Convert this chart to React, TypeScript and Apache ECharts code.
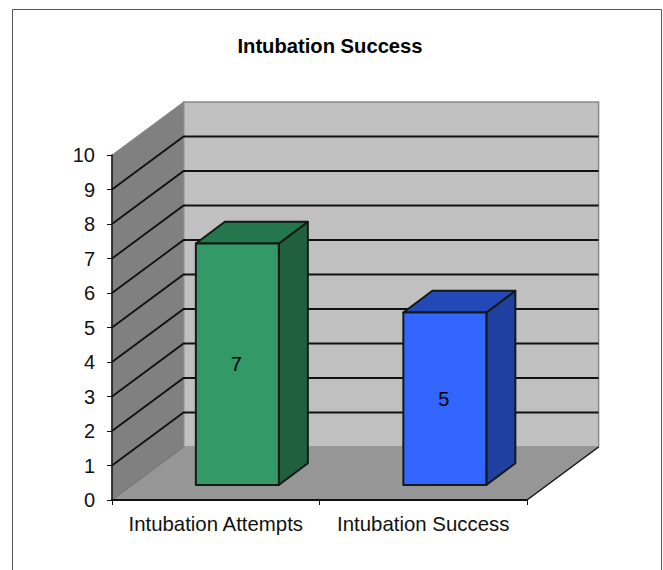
import React, { useEffect, useRef } from "react";
import * as echarts from "echarts";

const categories = ["Intubation Attempts", "Intubation Success"];
const counts = [7, 5];
const gridValues = [1, 2, 3, 4, 5, 6, 7, 8, 9];
const faceColors = ["#339966", "#3366ff"];
const sideColors = ["#20603e", "#2040a0"];
const topColors = ["#24774c", "#2448b8"];

const FONT = '"Liberation Sans", Arial, sans-serif';
const WALL_DX = 71.6;
const WALL_DY = -53;
const GAP_DX = 21.6;
const GAP_DY = -15;
const BAR_DX = 29;
const BAR_DY = -21.7;
const EDGE = "#111a14";

export default function App() {
  const ref = useRef<HTMLDivElement>(null);
  useEffect(() => {
    const chart = echarts.init(ref.current!, null, { renderer: "svg" });
    const backdrop = (_: any, api: any) => {
      const band = api.size([1, 0])[0];
      const [cx0, y0] = api.coord([0, 0]);
      const [, y10] = api.coord([0, 10]);
      const xl = cx0 - band / 2;
      const xr = xl + band * 2;
      const poly = (points: number[][], fill: string, stroke?: string, lineWidth = 1) => ({
        type: "polygon",
        shape: { points },
        style: { fill, stroke: stroke ?? "none", lineWidth },
      });
      return {
        type: "group",
        children: [
          poly(
            [[xl + WALL_DX, y0 + WALL_DY], [xr + WALL_DX, y0 + WALL_DY], [xr + WALL_DX, y10 + WALL_DY], [xl + WALL_DX, y10 + WALL_DY]],
            "#c0c0c0", "#8a8a8a", 1.5
          ),
          poly(
            [[xl, y0], [xl + WALL_DX, y0 + WALL_DY], [xl + WALL_DX, y10 + WALL_DY], [xl, y10]],
            "#808080", "#8a8a8a", 1
          ),
          poly(
            [[xl, y0], [xr, y0], [xr + WALL_DX, y0 + WALL_DY], [xl + WALL_DX, y0 + WALL_DY]],
            "#969696"
          ),
          {
            type: "line",
            shape: { x1: xr, y1: y0, x2: xr + WALL_DX, y2: y0 + WALL_DY },
            style: { stroke: "#111", lineWidth: 1.5 },
          },
          {
            type: "line",
            shape: { x1: xl, y1: y0, x2: xl + WALL_DX, y2: y0 + WALL_DY },
            style: { stroke: "#6e6e6e", lineWidth: 1 },
          },
        ],
      };
    };
    const gridLine = (_: any, api: any) => {
      const band = api.size([1, 0])[0];
      const [cx0, y] = api.coord([0, api.value(1)]);
      const xl = cx0 - band / 2;
      const xr = xl + band * 2;
      return {
        type: "polyline",
        shape: { points: [[xl, y], [xl + WALL_DX, y + WALL_DY], [xr + WALL_DX, y + WALL_DY]] },
        style: { fill: "none", stroke: "#111", lineWidth: 1.8 },
      };
    };
    const bar = (_: any, api: any) => {
      const i = api.value(0);
      const band = api.size([1, 0])[0];
      const w = band * 0.4;
      const [cx, yBase] = api.coord([i, 0]);
      const [, yTop] = api.coord([i, api.value(1)]);
      const l = cx - w / 2 + GAP_DX;
      const r = l + w;
      const b = yBase + GAP_DY;
      const t = yTop + GAP_DY;
      const stroke = { stroke: EDGE, lineWidth: 2, lineJoin: "round" };
      return {
        type: "group",
        children: [
          {
            type: "polygon",
            shape: { points: [[r, t], [r + BAR_DX, t + BAR_DY], [r + BAR_DX, b + BAR_DY], [r, b]] },
            style: { fill: sideColors[i], ...stroke },
          },
          {
            type: "polygon",
            shape: { points: [[l, t], [l + BAR_DX, t + BAR_DY], [r + BAR_DX, t + BAR_DY], [r, t]] },
            style: { fill: topColors[i], ...stroke },
          },
          {
            type: "polygon",
            shape: { points: [[l, t], [r, t], [r, b], [l, b]] },
            style: { fill: faceColors[i], ...stroke },
          },
          {
            type: "text",
            style: {
              x: (l + r) / 2 - 1,
              y: (t + b) / 2,
              text: String(api.value(1)),
              fill: "#000",
              font: `20px ${FONT}`,
              align: "center",
              verticalAlign: "middle",
            },
          },
        ],
      };
    };
    chart.setOption({
      animation: false,
      backgroundColor: "#fff",
      title: {
        text: "Intubation Success",
        left: 325,
        top: 31,
        textAlign: "center",
        textStyle: { fontFamily: FONT, fontSize: 20.2, fontWeight: "bold", color: "#000" },
      },
      graphic: [
        {
          type: "polyline",
          shape: { points: [[12.5, 570], [12.5, 9.5], [661.5, 9.5], [661.5, 570]] },
          style: { fill: "none", stroke: "#555", lineWidth: 1 },
        },
      ],
      grid: { left: 112, top: 155, width: 415, height: 345 },
      xAxis: {
        type: "category",
        data: categories,
        z: 5,
        axisLine: { show: true, lineStyle: { color: "#111", width: 2 } },
        axisTick: { show: true, length: 5, lineStyle: { color: "#111", width: 1 } },
        axisLabel: { color: "#111", fontFamily: FONT, fontSize: 20.4, margin: 14, interval: 0 },
      },
      yAxis: {
        type: "value",
        min: 0,
        max: 10,
        interval: 1,
        z: 5,
        splitLine: { show: false },
        axisLine: { show: true, lineStyle: { color: "#111", width: 1.5 } },
        axisTick: { show: true, length: 5, lineStyle: { color: "#111", width: 1 } },
        axisLabel: { color: "#111", fontFamily: FONT, fontSize: 20, margin: 17 },
      },
      series: [
        { type: "custom", z: 1, silent: true, data: [[0, 0]], encode: { x: 0, y: 1 }, renderItem: backdrop },
        { type: "custom", z: 2, silent: true, data: gridValues.map((v) => [0, v]), encode: { x: 0, y: 1 }, renderItem: gridLine },
        { type: "custom", z: 3, data: counts.map((v, i) => [i, v]), encode: { x: 0, y: 1 }, renderItem: bar },
      ],
    });
    return () => chart.dispose();
  }, []);
  return <div ref={ref} style={{ position: "absolute", left: 0, top: 0, width: 663, height: 570 }} />;
}
